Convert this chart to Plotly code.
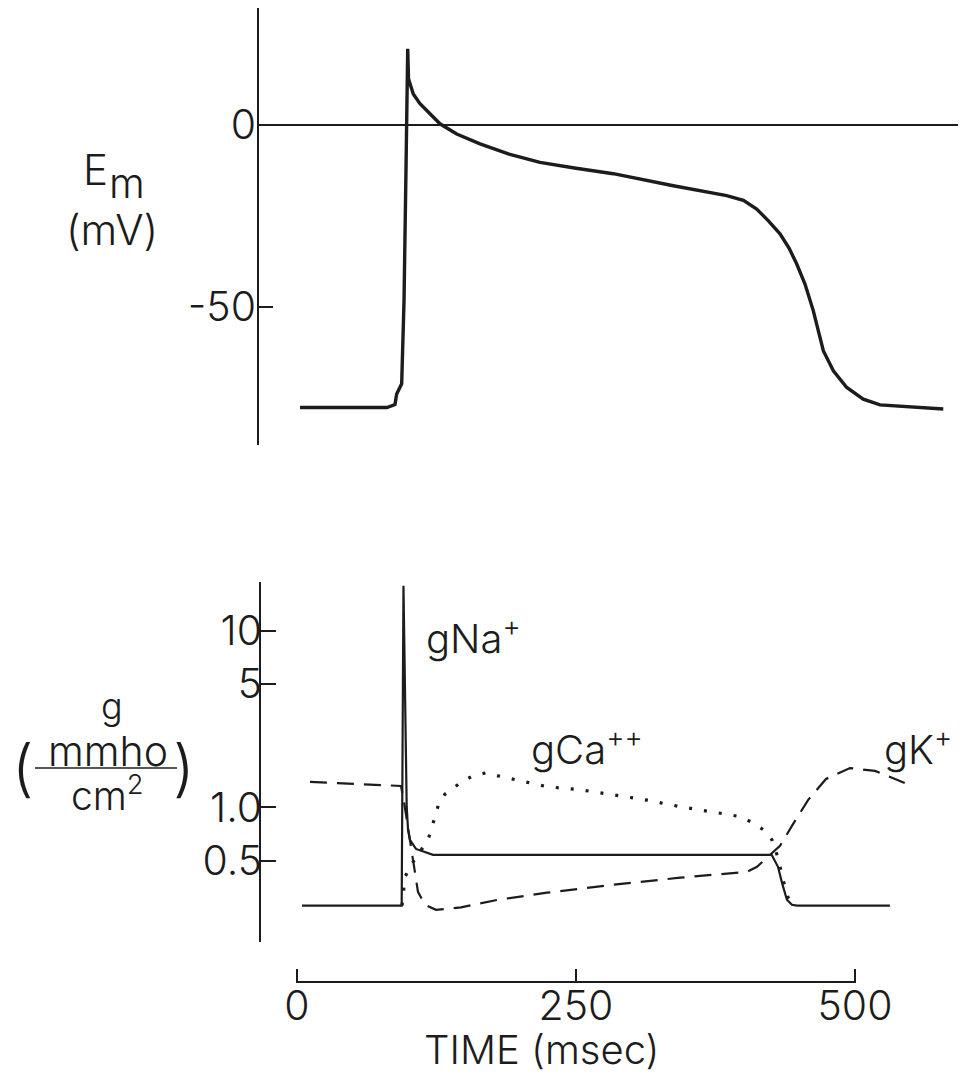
import plotly.graph_objects as go

W, H = 960, 1075

# ---------------- data ----------------
# Top panel: membrane potential Em (mV) vs time (msec)
ap_time = [2.7, 80.6, 87.8, 89.3, 93.8, 95.9, 97.7, 99.2, 99.9, 104.2, 110.0, 116.2, 122.0,
           128.1, 143.1, 164.0, 190.0, 217.7, 250.0, 283.4, 337.2, 385.0, 400.0, 411.9,
           422.0, 432.8, 441.0, 447.8, 455.2, 462.6, 471.6, 480.6, 492.6, 507.4, 522.4,
           579.1]
ap_mv = [-77.7, -77.7, -76.9, -74.0, -71.2, -48.4, -11.7, 20.8, 12.6, 8.4, 5.8, 3.8, 1.9,
         0.2, -2.6, -5.3, -8.1, -10.4, -12.0, -13.5, -16.8, -19.5, -20.8, -23.2,
         -26.3, -30.0, -34.0, -38.3, -43.8, -51.1, -62.1, -67.6, -72.2, -75.4, -77.0,
         -78.1]

# Bottom panel: conductances (mmho/cm2), log scale
gna_time = [4.5, 93.8, 95.4, 97.2, 98.3, 99.5, 101.2, 106.6, 112.9, 121.9,
            425.3, 431.0, 434.6, 439.0, 443.5, 448.0, 531.3]
gna_g = [0.278, 0.278, 18.0, 4.06, 1.01, 0.746, 0.655, 0.582, 0.562, 0.539,
         0.539, 0.461, 0.374, 0.300, 0.281, 0.278, 0.278]

gk_time = [11.6, 86.0, 93.2, 95.9, 100.4, 103.9, 108.4, 114.7, 124.5, 147.0, 180.1,
           224.0, 283.1, 343.2, 403.2, 412.2, 419.3, 432.8, 443.5, 457.9, 474.0,
           495.5, 517.9, 537.6, 544.8]
gk_g = [1.394, 1.341, 1.323, 1.074, 0.70, 0.486, 0.333, 0.281, 0.263, 0.272, 0.300,
        0.329, 0.365, 0.400, 0.432, 0.461, 0.505, 0.606, 0.786, 1.10, 1.45,
        1.67, 1.61, 1.43, 1.375]

gca_time = [94.1, 96.8, 103.9, 117.4, 121.0, 123.7, 127.2, 132.6, 139.8, 148.7, 157.7,
            169.4, 180.1, 193.5, 224.0, 253.6, 283.1, 313.6, 343.2, 372.7, 396.9,
            408.6, 419.3, 425.6, 431.0, 435.5, 439.9, 446.2]
gca_g = [0.278, 0.405, 0.49, 0.655, 0.776, 0.894, 1.06, 1.19, 1.29, 1.41, 1.51,
         1.57, 1.51, 1.45, 1.31, 1.26, 1.18, 1.10, 1.01, 0.94, 0.888,
         0.818, 0.737, 0.655, 0.519, 0.39, 0.31, 0.278]

em_ticks = [0, -50]
em_ticktext = ["0", "-50"]
g_ticks = [10, 5, 1, 0.5]
g_ticktext = ["10", "5", "1.0", "0.5"]
time_ticks = [0, 250, 500]
time_ticktext = ["0", "250", "500"]

# ---------------- helpers ----------------
def px(x):
    return x / W

def py(y):
    return 1 - y / H

FONT = "Inter"
FW = 300
INK = "#1c1c1c"

fig = go.Figure()

fig.add_trace(go.Scatter(x=ap_time, y=ap_mv, mode="lines", xaxis="x", yaxis="y",
                         line=dict(color=INK, width=3.4), showlegend=False, hoverinfo="skip"))
fig.add_trace(go.Scatter(x=gna_time, y=gna_g, mode="lines", xaxis="x2", yaxis="y2",
                         line=dict(color=INK, width=2.2), showlegend=False, hoverinfo="skip"))
fig.add_trace(go.Scatter(x=gk_time, y=gk_g, mode="lines", xaxis="x2", yaxis="y2",
                         line=dict(color=INK, width=2.2, dash="17px,10px"),
                         showlegend=False, hoverinfo="skip"))
fig.add_trace(go.Scatter(x=gca_time, y=gca_g, mode="lines", xaxis="x2", yaxis="y2",
                         line=dict(color=INK, width=3.2, dash="3px,12px"),
                         showlegend=False, hoverinfo="skip"))
# empty trace so the stand-alone time axis is drawn
fig.add_trace(go.Scatter(x=[], y=[], xaxis="x3", yaxis="y3", showlegend=False))

s = 500 / 558.0  # msec per pixel
x_right = (958 - 297) * s
pad_ms = 1.0     # small padding so the end ticks of the time bar are drawn
pad_px = pad_ms / s

tickfont = dict(family=FONT, size=41, color=INK, weight=FW)

fig.update_layout(
    width=W, height=H, autosize=False,
    margin=dict(l=0, r=0, t=0, b=0, pad=0, autoexpand=False),
    paper_bgcolor="white", plot_bgcolor="white",
    font=dict(family=FONT, color=INK, weight=FW),
    xaxis=dict(domain=[px(259), px(958)], range=[(259 - 297) * s, x_right],
               visible=False, anchor="y", automargin=False),
    yaxis=dict(domain=[py(445), py(8)], range=[-88, 32], anchor="x", automargin=False,
               showline=True, linecolor=INK, linewidth=1.6,
               ticks="inside", ticklen=14, tickwidth=1.6, tickcolor=INK,
               tickvals=em_ticks, ticktext=em_ticktext, tickfont=tickfont,
               ticklabelstandoff=-7,
               showgrid=False, zeroline=True, zerolinecolor=INK, zerolinewidth=1.6),
    xaxis2=dict(domain=[px(261), px(958)], range=[(261 - 297) * s, x_right],
                visible=False, anchor="y2", automargin=False),
    yaxis2=dict(domain=[py(942), py(582)], type="log", range=[-0.762, 1.2765],
                anchor="x2", automargin=False, showline=True, linecolor=INK, linewidth=1.6,
                ticks="inside", ticklen=15, tickwidth=1.6, tickcolor=INK,
                tickvals=g_ticks, ticktext=g_ticktext, tickfont=tickfont,
                ticklabelstandoff=-11,
                showgrid=False, zeroline=False),
    xaxis3=dict(domain=[px(297 - pad_px), px(855 + pad_px)], range=[-pad_ms, 500 + pad_ms],
                anchor="y3", automargin=False,
                showline=True, linecolor=INK, linewidth=1.6,
                ticks="inside", ticklen=12, tickwidth=1.6, tickcolor=INK,
                tickvals=time_ticks, ticktext=time_ticktext, tickfont=tickfont,
                ticklabelstandoff=-12,
                showgrid=False, zeroline=False),
    yaxis3=dict(domain=[py(981), py(975)], range=[0, 1], visible=False, anchor="x3",
                automargin=False),
)

def ann(text, x, y, size, xanchor="center", yanchor="middle"):
    fig.add_annotation(text=text, x=px(x), y=py(y), xref="paper", yref="paper",
                       showarrow=False, xanchor=xanchor, yanchor=yanchor,
                       font=dict(family=FONT, size=size, color=INK, weight=FW))

# Em label
ann("E", 95, 169, 42)
ann("m", 127, 183, 41)
ann("(mV)", 112, 229, 42)

# g label
ann("g", 112, 706, 36)
ann("mmho", 108, 751, 41)
ann("cm<sup>2</sup>", 107, 793, 39)
ann("(", 23, 767, 62)
ann(")", 184, 767, 62)
fig.add_shape(type="line", xref="paper", yref="paper",
              x0=px(35), x1=px(177), y0=py(768), y1=py(768),
              line=dict(color=INK, width=1.6))

# series labels
ann("gNa<sup>+</sup>", 424, 636, 40, xanchor="left")
ann("gCa<sup>++</sup>", 529, 747, 40, xanchor="left")
ann("gK<sup>+</sup>", 882, 747, 40, xanchor="left")

# time axis title
ann("TIME (msec)", 542, 1049, 40)

fig.write_html("out.html")
